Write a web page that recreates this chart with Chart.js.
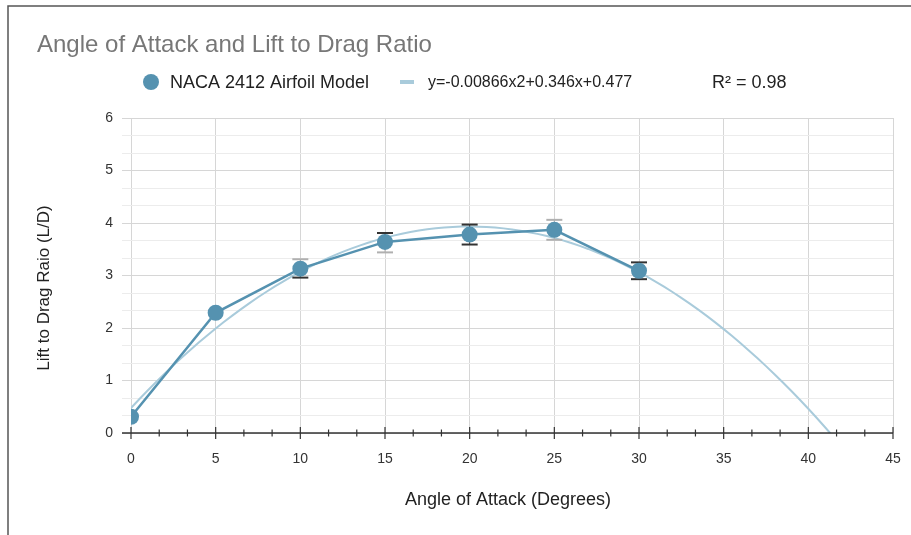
<!DOCTYPE html>
<html>
<head>
<meta charset="utf-8">
<script src="https://cdn.jsdelivr.net/npm/chart.js@4"></script>
<style>
  html, body { margin: 0; padding: 0; background: #fff; }
  #wrap { position: relative; width: 911px; height: 535px; }
</style>
</head>
<body>
<div id="wrap"><canvas id="chart" width="911" height="535"></canvas></div>
<script>
// Data
const angles = [0, 5, 10, 15, 20, 25, 30];
const liftDrag = [0.31, 2.29, 3.13, 3.64, 3.78, 3.87, 3.09];
// two interval sets (light and dark caps), null where not shown
const lightHigh = [null, null, 3.31, null, null, 4.06, null];
const lightLow = [null, null, null, 3.44, null, 3.68, null];
const darkHigh = [null, null, null, 3.81, 3.97, null, 3.25];
const darkLow = [null, null, 2.96, null, 3.59, null, 2.93];
// polynomial trendline from the legend: a*x^2 + b*x + c
const trendCoefs = [-0.00866, 0.346, 0.477];
const trendLabel = 'y=-0.00866x2+0.346x+0.477';
const rSquared = 'R\u00b2 = 0.98';
const xTickLabels = [0, 5, 10, 15, 20, 25, 30, 35, 40, 45];
const yTickLabels = [0, 1, 2, 3, 4, 5, 6];

const POINT = '#5592b0';
const TREND = '#a9cbdb';
const FONT = "'Liberation Sans', Arial, sans-serif";

// trendline samples over the plotted x range
const trendX = [];
for (let x = 0; x <= 42; x += 0.5) trendX.push(x);
const trendPts = trendX.map(x => ({ x: x, y: trendCoefs[0] * x * x + trendCoefs[1] * x + trendCoefs[2] }));

const isInt = v => Math.abs(v - Math.round(v)) < 1e-6;

const decor = {
    id: 'decor',
    afterDatasetDraw(chart, args) {
        // error bars go above the trendline but under the data series
        if (args.index !== 1) return;
        const ctx = chart.ctx, xs = chart.scales.x, ys = chart.scales.y;
        const bar = (i, hi, lo, color) => {
            const px = xs.getPixelForValue(angles[i]);
            const py = ys.getPixelForValue(liftDrag[i]);
            ctx.strokeStyle = color;
            [hi, lo].forEach(v => {
                if (v === null) return;
                const vy = ys.getPixelForValue(v);
                ctx.lineWidth = 1;
                ctx.beginPath(); ctx.moveTo(px, py); ctx.lineTo(px, vy); ctx.stroke();
                ctx.lineWidth = 2;
                ctx.beginPath(); ctx.moveTo(px - 8, vy); ctx.lineTo(px + 8, vy); ctx.stroke();
            });
        };
        ctx.save();
        angles.forEach((a, i) => {
            bar(i, lightHigh[i], lightLow[i], '#b0b0b0');
            bar(i, darkHigh[i], darkLow[i], '#333');
        });
        ctx.restore();
    },
    afterDraw(chart) {
        const ctx = chart.ctx, xs = chart.scales.x, ys = chart.scales.y;
        const area = chart.chartArea;
        ctx.save();
        // x axis line with crossing ticks
        const y0 = ys.getPixelForValue(0);
        ctx.strokeStyle = '#333';
        ctx.lineWidth = 1.5;
        ctx.beginPath(); ctx.moveTo(area.left - 9, y0); ctx.lineTo(area.right, y0); ctx.stroke();
        ctx.lineWidth = 1.2;
        for (let k = 0; k <= 27; k++) {
            const v = k * 5 / 3;
            const px = xs.getPixelForValue(v);
            const major = k % 3 === 0;
            const h = major ? 6 : 3.5;
            ctx.beginPath(); ctx.moveTo(px, y0 - h); ctx.lineTo(px, y0 + h); ctx.stroke();
        }
        // title
        ctx.fillStyle = '#777';
        ctx.font = '24px ' + FONT;
        ctx.textBaseline = 'middle';
        ctx.textAlign = 'left';
        ctx.fillText('Angle of Attack and Lift to Drag Ratio', 37, 45);
        // legend
        ctx.fillStyle = POINT;
        ctx.beginPath(); ctx.arc(151, 82, 8, 0, Math.PI * 2); ctx.fill();
        ctx.fillStyle = '#222';
        ctx.font = '18px ' + FONT;
        ctx.fillText(chart.data.datasets[0].label, 170, 83);
        ctx.strokeStyle = TREND;
        ctx.lineWidth = 4;
        ctx.beginPath(); ctx.moveTo(400, 82); ctx.lineTo(414, 82); ctx.stroke();
        ctx.font = '16px ' + FONT;
        ctx.fillText(trendLabel, 428, 83);
        ctx.font = '18px ' + FONT;
        ctx.fillText(rSquared, 712, 83);
        // axis titles
        ctx.font = '18px ' + FONT;
        ctx.textAlign = 'center';
        ctx.fillText('Angle of Attack (Degrees)', 508, 500);
        ctx.font = '17px ' + FONT;
        ctx.translate(44, 288);
        ctx.rotate(-Math.PI / 2);
        ctx.fillText('Lift to Drag Raio (L/D)', 0, 0);
        ctx.restore();
        // outer frame
        ctx.save();
        ctx.strokeStyle = '#555';
        ctx.lineWidth = 1.5;
        ctx.beginPath(); ctx.moveTo(8, 535); ctx.lineTo(8, 6); ctx.lineTo(911, 6); ctx.stroke();
        ctx.restore();
    }
};

new Chart(document.getElementById('chart'), {
    type: 'line',
    data: {
        datasets: [{
            label: 'NACA 2412 Airfoil Model',
            data: angles.map((a, i) => ({ x: a, y: liftDrag[i] })),
            borderColor: POINT,
            backgroundColor: POINT,
            borderWidth: 2.5,
            pointRadius: 8,
            pointBorderWidth: 0,
            tension: 0
        }, {
            label: trendLabel,
            data: trendPts,
            borderColor: TREND,
            borderWidth: 2,
            pointRadius: 0,
            tension: 0
        }]
    },
    options: {
        responsive: false,
        animation: false,
        devicePixelRatio: 1,
        layout: { padding: { left: 30, top: 118, right: 18, bottom: 20 } },
        plugins: { legend: { display: false }, tooltip: { enabled: false } },
        scales: {
            x: {
                type: 'linear',
                min: 0,
                max: 45,
                afterBuildTicks: s => { s.ticks = xTickLabels.map(v => ({ value: v })); },
                afterFit: s => { s.height = 82; s.paddingLeft = 0; s.paddingRight = 0; },
                grid: { color: '#d6d6d6', drawTicks: false },
                border: { display: false },
                ticks: { padding: 18, color: '#333', font: { size: 14, family: FONT } }
            },
            y: {
                min: 0,
                max: 6,
                afterBuildTicks: s => {
                    const t = [];
                    for (let k = 0; k <= 18; k++) t.push({ value: k / 3 });
                    s.ticks = t;
                },
                afterFit: s => { s.width = 101; s.paddingTop = 0; s.paddingBottom = 0; },
                grid: {
                    color: c => isInt(c.tick.value) ? '#d6d6d6' : '#ececec',
                    tickLength: 9
                },
                border: { display: false },
                ticks: {
                    padding: 9,
                    autoSkip: false,
                    color: '#333',
                    font: { size: 14, family: FONT },
                    callback: v => isInt(v) ? String(Math.round(v)) : ''
                }
            }
        }
    },
    plugins: [decor]
});
</script>
</body>
</html>
